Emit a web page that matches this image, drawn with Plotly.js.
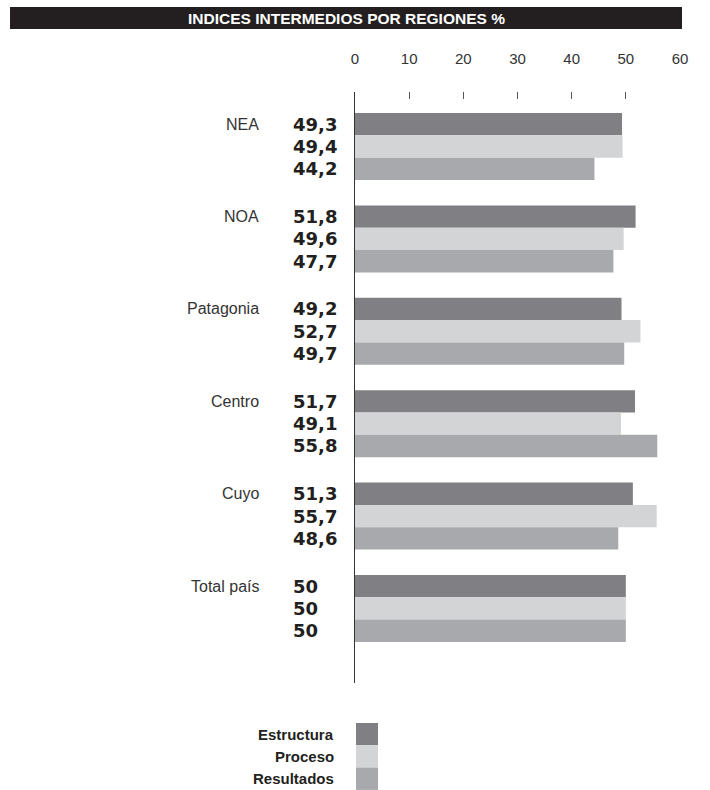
<!DOCTYPE html>
<html>
<head>
<meta charset="utf-8">
<script src="https://cdn.plot.ly/plotly-3.0.1.min.js"></script>
<style>html,body{margin:0;padding:0;background:#fff;}#chart{width:710px;height:790px;}</style>
</head>
<body>
<div id="chart"></div>
<script>
const regions = ['NEA', 'NOA', 'Patagonia', 'Centro', 'Cuyo', 'Total país'];
const seriesNames = ['Estructura', 'Proceso', 'Resultados'];
const estructura = [49.3, 51.8, 49.2, 51.7, 51.3, 50];
const proceso = [49.4, 49.6, 52.7, 49.1, 55.7, 50];
const resultados = [44.2, 47.7, 49.7, 55.8, 48.6, 50];
const xTicks = [0, 10, 20, 30, 40, 50, 60];
const colors = ['#808084', '#d3d4d6', '#a8a9ac'];
const titleText = 'INDICES INTERMEDIOS POR REGIONES %';

const series = [estructura, proceso, resultados];
const barPx = 22.3;
const TOP = 92, BOT = 683, H = BOT - TOP, L = 355, W = 325;
const px = x => (x - L) / W;
const py = y => (BOT - y) / H;

const traces = series.map((vals, i) => ({
  type: 'bar',
  orientation: 'h',
  name: seriesNames[i],
  y: regions,
  x: vals,
  marker: {color: colors[i], line: {width: 0}},
  hoverinfo: 'skip',
  showlegend: false
}));

const fmt = v => String(v).replace('.', ',');
const annotations = [];
regions.forEach(r => {
  annotations.push({
    xref: 'paper', yref: 'y', x: px(261), y: r, yshift: barPx,
    xanchor: 'right', yanchor: 'middle', showarrow: false, text: r,
    font: {family: 'Liberation Sans, Arial, sans-serif', size: 16, color: '#333'}
  });
});
series.forEach((vals, i) => {
  vals.forEach((v, j) => {
    annotations.push({
      xref: 'paper', yref: 'y', x: px(291), y: regions[j], yshift: (1 - i) * barPx,
      xanchor: 'left', yanchor: 'middle', showarrow: false, text: '<b>' + fmt(v) + '</b>',
      font: {family: 'DejaVu Sans, sans-serif', size: 18, color: '#231f20'}
    });
  });
});
annotations.push({
  xref: 'paper', yref: 'paper', x: px(346), y: py(18.5),
  xanchor: 'center', yanchor: 'middle', showarrow: false, text: '<b>' + titleText + '</b>',
  font: {family: 'Liberation Sans, Arial, sans-serif', size: 15.5, color: '#fff'}
});
const shapes = [{
  type: 'rect', xref: 'paper', yref: 'paper',
  x0: px(10), x1: px(682), y0: py(29), y1: py(7),
  fillcolor: '#231f20', line: {width: 0}, layer: 'below'
}];
seriesNames.forEach((n, i) => {
  const top = 723 + i * 22.3, bot = top + 22.3;
  shapes.push({
    type: 'rect', xref: 'paper', yref: 'paper',
    x0: px(356), x1: px(378), y0: py(bot), y1: py(top),
    fillcolor: colors[i], line: {width: 0}
  });
  annotations.push({
    xref: 'paper', yref: 'paper', x: px(336), y: py((top + bot) / 2),
    xanchor: 'right', yanchor: 'middle', showarrow: false, text: '<b>' + n + '</b>',
    font: {family: 'Liberation Sans, Arial, sans-serif', size: 15, color: '#231f20'}
  });
});

const layout = {
  width: 710, height: 790,
  margin: {l: L, r: 710 - L - W, t: TOP, b: 790 - BOT},
  paper_bgcolor: '#fff', plot_bgcolor: '#fff',
  barmode: 'group', bargap: 0.275, bargroupgap: 0,
  showlegend: false,
  xaxis: {
    side: 'top', range: [0, 60], tickvals: xTicks, ticktext: xTicks.map(String),
    ticks: 'inside', ticklen: 7, tickwidth: 1, tickcolor: '#555',
    ticklabelstandoff: 24,
    showgrid: false, zeroline: false, showline: false, fixedrange: true,
    tickfont: {family: 'Liberation Sans, Arial, sans-serif', size: 15, color: '#333'}
  },
  yaxis: {
    type: 'category', categoryorder: 'array', categoryarray: regions,
    range: [5.807, -0.59], autorange: false,
    showticklabels: false, ticks: '', showgrid: false, zeroline: false,
    showline: true, linecolor: '#333', linewidth: 1.2, fixedrange: true
  },
  annotations: annotations,
  shapes: shapes
};

Plotly.newPlot('chart', traces, layout, {staticPlot: true, displayModeBar: false});
</script>
</body>
</html>
